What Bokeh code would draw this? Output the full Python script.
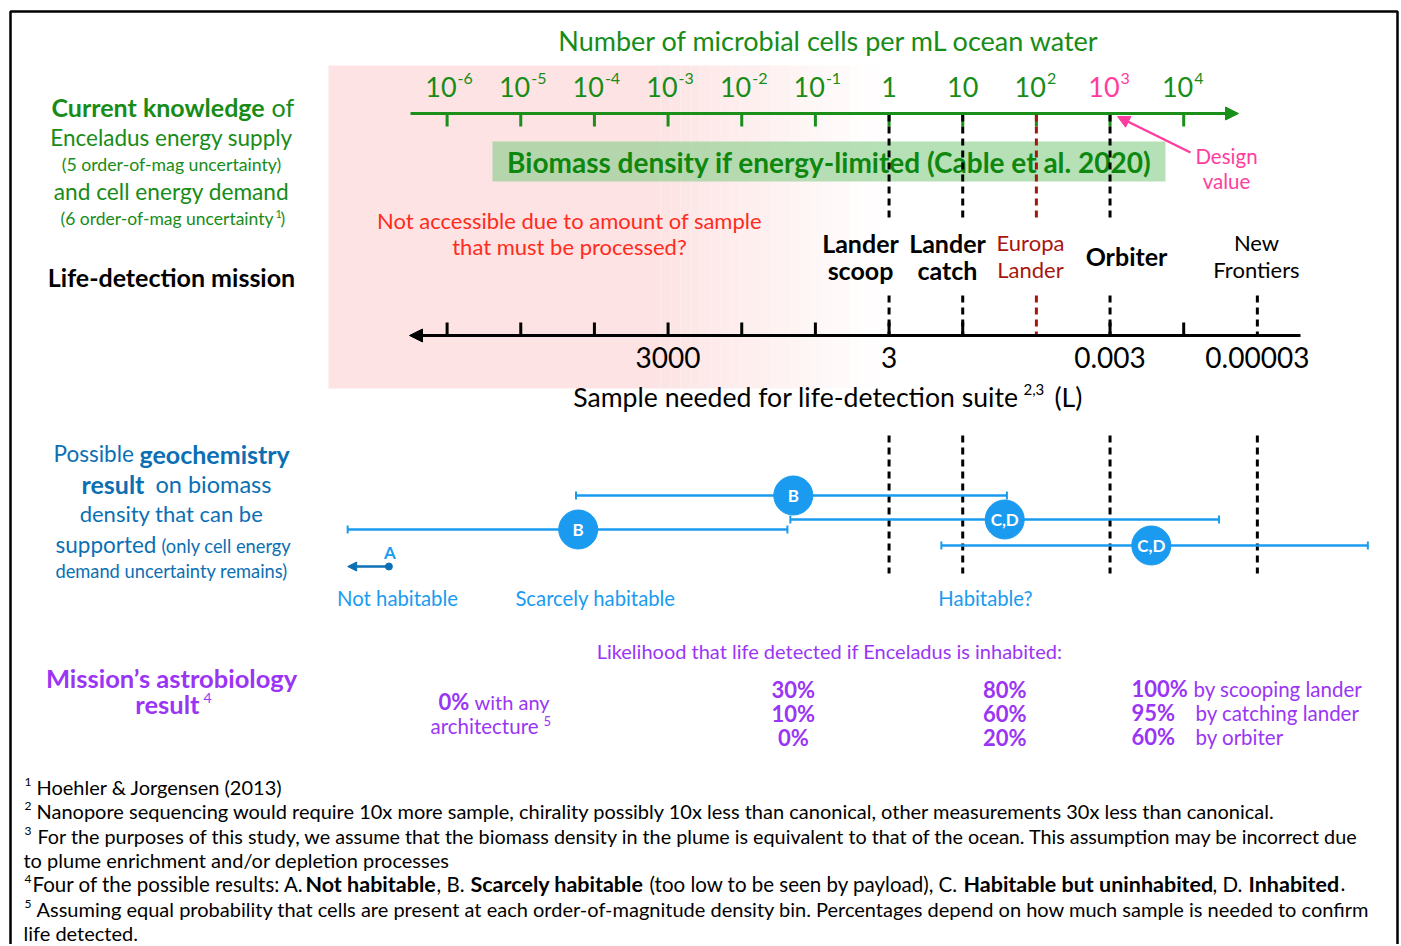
from bokeh.plotting import figure
from bokeh.models import Range1d, Arrow, NormalHead
from bokeh.core.properties import value
from bokeh.embed import file_html
from bokeh.resources import INLINE

# ---------------- data ----------------
density_exponents = [-6, -5, -4, -3, -2, -1, 0, 1, 2, 3, 4]   # top axis: cells per mL (10^x)
design_exponent = 3
mission_names = [["Lander", "scoop"], ["Lander", "catch"], ["Europa", "Lander"], ["Orbiter"], ["New", "Frontiers"]]
mission_exponents = [0, 1, 2, 3, 5]
sample_exponents = [-3, 0, 3, 5]
sample_labels = ["3000", "3", "0.003", "0.00003"]
result_labels = ["B", "B", "C,D", "C,D"]
result_center = [-4.22, -1.30, 1.57, 3.56]
result_low = [-7.35, -4.25, -1.34, 0.71]
result_high = [-1.38, 1.60, 4.48, 6.50]
result_A = -6.79
result_A_arrow_to = -7.35
likelihood_col1 = ["30%", "10%", "0%"]
likelihood_col2 = ["80%", "60%", "20%"]
likelihood_col3 = ["100%", "95%", "60%"]
likelihood_col3_by = ["by scooping lander", "by catching lander", "by orbiter"]

# ---------------- layout helpers ----------------
W, H = 1400, 944
PX0, PPD = 446.6, 73.66          # pixel of 10^-6 tick, pixels per decade


def X(px):
    return (px - PX0) / PPD - 6.0


FONT = "Lato"
GREEN = "#178c17"
DGREEN = "#0e870e"
PINKBG = "#fde3e3"
RED = "#ff2b1c"
DRED = "#a8150d"
PINK = "#ff3d9e"
BLUE = "#1a9bf0"
DBLUE = "#0b6fb4"
PURPLE = "#9a35f5"

p = figure(width=W, height=H, x_range=Range1d(X(0), X(W)), y_range=Range1d(H, 0),
           output_backend="svg", toolbar_location=None, min_border=0)
p.axis.visible = False
p.grid.visible = False
p.outline_line_color = None
p.background_fill_color = "white"


def T(s, x, y, size, color, bold=False, align="center", data_x=False):
    p.text(x=[x if data_x else X(x)], y=[y], text=[s], text_font=value(FONT),
           text_font_size=f"{size}px", text_font_style="bold" if bold else "normal",
           text_color=color, text_align=align, text_baseline="middle")


# frame box
p.quad(left=[X(10)], right=[X(1397)], top=[11], bottom=[H + 20], fill_color=None, line_color="black", line_width=2.5)

# ---------------- pink "not accessible" region with fade ----------------
p.quad(left=[X(328)], right=[X(660)], bottom=[388], top=[65], fill_color=PINKBG, line_color=None)
n = 22
for i in range(n):
    l = 660 + i * 10
    p.quad(left=[X(l)], right=[X(l + 10)], bottom=[388], top=[65], fill_color=PINKBG,
           fill_alpha=1 - (i + 0.5) / n, line_color=None)

# ---------------- title ----------------
T("Number of microbial cells per mL ocean water", 829, 40, 27, GREEN)

# ---------------- top axis ----------------
p.add_layout(Arrow(x_start=X(410), y_start=113, x_end=X(1238), y_end=113, line_color="#1a8f1a", line_width=3,
                   end=NormalHead(size=13, fill_color="#1a8f1a", line_color="#1a8f1a")))
p.segment(x0=density_exponents, x1=density_exponents, y0=[113] * 11, y1=[126] * 11, line_color="#1a8f1a", line_width=3)
for e in density_exponents:
    col = PINK if e == design_exponent else GREEN
    if e == 0:
        T("1", e, 86, 27, col, data_x=True)
    elif e == 1:
        T("10", e, 86, 27, col, data_x=True)
    else:
        T("10", e + 9.5 / PPD, 86, 27, col, align="right", data_x=True)
        T(str(e), e + 10.5 / PPD, 78, 16, col, align="left", data_x=True)

# ---------------- biomass band ----------------
p.quad(left=[X(492)], right=[X(1165)], bottom=[181], top=[141], fill_color="#8fcf8f", fill_alpha=0.65, line_color=None)
T("Biomass density if energy-limited (Cable et al. 2020)", 829, 161, 28, DGREEN, bold=True)

# ---------------- left green text ----------------
T("Current knowledge", 51, 106, 25, GREEN, bold=True, align="left")
T("of", 271, 106, 25, GREEN, align="left")
T("Enceladus energy supply", 171, 137, 22.5, GREEN)
T("(5 order-of-mag uncertainty)", 171, 164, 17.7, GREEN)
T("and cell energy demand", 171, 191, 22.7, GREEN)
T("(6 order-of-mag uncertainty", 273, 218, 17.5, GREEN, align="right")
T("1", 275, 213, 11, GREEN, align="left")
T(")", 280, 218, 17.5, GREEN, align="left")
T("Life-detection mission", 171, 276, 25, "black", bold=True)

# ---------------- red note ----------------
T("Not accessible due to amount of sample", 569, 220, 22, RED)
T("that must be processed?", 569, 246, 22, RED)

# ---------------- mission dashed lines and labels ----------------
for e in mission_exponents:
    col = DRED if e == 2 else "black"
    if e != 5:
        p.segment(x0=[e], x1=[e], y0=[114], y1=[222], line_color=col, line_width=3, line_dash="7 5")
    p.segment(x0=[e], x1=[e], y0=[295], y1=[335], line_color=col, line_width=3, line_dash="7 5")
    if e != 2:
        p.segment(x0=[e], x1=[e], y0=[435], y1=[573], line_color="black", line_width=3, line_dash="7 5")

label_x = [860, 947, 1030, 1126, 1256]
for names, e, lx in zip(mission_names, mission_exponents, label_x):
    bold = e in (0, 1, 3)
    col = DRED if e == 2 else "black"
    size = 25 if bold else 22
    if len(names) == 1:
        T(names[0], lx, 255, size, col, bold=bold)
    else:
        T(names[0], lx, 242, size, col, bold=bold)
        T(names[1], lx, 269, size, col, bold=bold)

# design value arrow
p.add_layout(Arrow(x_start=X(1190), y_start=152, x_end=X(1117), y_end=116, line_color=PINK, line_width=2.5,
                   end=NormalHead(size=12, fill_color=PINK, line_color=PINK)))
T("Design", 1226, 155, 20.5, PINK)
T("value", 1226, 180, 20.5, PINK)

# ---------------- bottom (sample) axis ----------------
p.add_layout(Arrow(x_start=X(1300), y_start=335, x_end=X(409), y_end=335, line_color="black", line_width=3,
                   end=NormalHead(size=13, fill_color="black", line_color="black")))
bt = [e for e in density_exponents if e != 2]
p.segment(x0=bt, x1=bt, y0=[335] * len(bt), y1=[322] * len(bt), line_color="black", line_width=3)
for e, s in zip(sample_exponents, sample_labels):
    T(s, e, 357, 28, "black", data_x=True)
T("Sample needed for life-detection suite", 1018, 396, 26.6, "black", align="right")
T("2,3", 1023, 389, 15, "black", align="left")
T("(L)", 1054, 396, 26.6, "black", align="left")

# ---------------- geochemistry results ----------------
rows_y = [529, 495, 519, 545]
for lo, c, hi, lab, y in zip(result_low, result_center, result_high, result_labels, rows_y):
    p.segment(x0=[lo], x1=[hi], y0=[y], y1=[y], line_color=BLUE, line_width=2.5)
    p.segment(x0=[lo, hi], x1=[lo, hi], y0=[y - 4, y - 4], y1=[y + 4, y + 4], line_color=BLUE, line_width=2)
    p.scatter(x=[c], y=[y], size=39, marker="circle", fill_color=BLUE, line_color=BLUE)
    T(lab, c, y, 17, "white", bold=True, data_x=True)

p.add_layout(Arrow(x_start=result_A, y_start=566, x_end=result_A_arrow_to, y_end=566, line_color=DBLUE, line_width=2.5,
                   end=NormalHead(size=9, fill_color=DBLUE, line_color=DBLUE)))
p.scatter(x=[result_A], y=[566], size=7, marker="circle", fill_color=DBLUE, line_color=DBLUE)
T("A", result_A + 1 / PPD, 552, 17, BLUE, bold=True, data_x=True)

T("Not habitable", 397, 597, 20.3, BLUE)
T("Scarcely habitable", 595, 597, 20.3, BLUE)
T("Habitable?", 985, 597, 20.3, BLUE)

# left blue text
T("Possible", 53, 453, 22.5, DBLUE, align="left")
T("geochemistry", 139, 453, 25, DBLUE, bold=True, align="left")
T("result", 81, 483, 25, DBLUE, bold=True, align="left")
T("on biomass", 155, 483, 23.5, DBLUE, align="left")
T("density that can be", 171, 513, 22, DBLUE)
T("supported", 55, 544, 22.5, DBLUE, align="left")
T("(only cell energy", 161, 545, 18.3, DBLUE, align="left")
T("demand uncertainty remains)", 171, 570, 18.3, DBLUE)

# ---------------- mission astrobiology result ----------------
T("Mission\u2019s astrobiology", 171, 677, 25.5, PURPLE, bold=True)
T("result", 199, 703, 25.5, PURPLE, bold=True, align="right")
T("4", 203, 697, 14, PURPLE, align="left")
T("Likelihood that life detected if Enceladus is inhabited:", 829, 650, 20, PURPLE)
T("0%", 438, 701, 22, PURPLE, bold=True, align="left")
T("with any", 474, 701, 20, PURPLE, align="left")
T("architecture", 538, 725, 20.5, PURPLE, align="right")
T("5", 543, 720, 13, PURPLE, align="left")
for i, s in enumerate(likelihood_col1):
    T(s, result_center[1], 689 + 24 * i, 22, PURPLE, bold=True, data_x=True)
for i, s in enumerate(likelihood_col2):
    T(s, result_center[2], 689 + 24 * i, 22, PURPLE, bold=True, data_x=True)
for i, (s, b) in enumerate(zip(likelihood_col3, likelihood_col3_by)):
    T(s, 1131, 688 + 24 * i, 22, PURPLE, bold=True, align="left")
    T(b, 1193 if i == 0 else 1195, 688 + 24 * i, 20.5, PURPLE, align="left")

# ---------------- footnotes ----------------
FN = 20
FB = 21.5
fy = [786, 810, 835, 859, 883, 908, 932]
T("1", 24, fy[0] - 5, 12, "black", align="left")
T("Hoehler & Jorgensen (2013)", 36, fy[0], FN, "black", align="left")
T("2", 24, fy[1] - 5, 12, "black", align="left")
T("Nanopore sequencing would require 10x more sample, chirality possibly 10x less than canonical, other measurements 30x less than canonical.",
  36, fy[1], FN, "black", align="left")
T("3", 24, fy[2] - 5, 12, "black", align="left")
T("For the purposes of this study, we assume that the biomass density in the plume is equivalent to that of the ocean. This assumption may be incorrect due",
  37, fy[2], 19.8, "black", align="left")
T("to plume enrichment and/or depletion processes", 23, fy[3], FN, "black", align="left")
T("4", 24, fy[4] - 5, 12, "black", align="left")
T("Four of the possible results: A.", 32, fy[4], 20.5, "black", align="left")
T("Not habitable", 305, fy[4], FB, "black", bold=True, align="left")
T(", B.", 436, fy[4], 20.5, "black", align="left")
T("Scarcely habitable", 470, fy[4], FB, "black", bold=True, align="left")
T("(too low to be seen by payload), C.", 649, fy[4], 20.5, "black", align="left")
T("Habitable but uninhabited", 963, fy[4], FB, "black", bold=True, align="left")
T(", D.", 1212, fy[4], 20.5, "black", align="left")
T("Inhabited", 1248, fy[4], FB, "black", bold=True, align="left")
T(".", 1340, fy[4], 20.5, "black", align="left")
T("5", 24, fy[5] - 5, 12, "black", align="left")
T("Assuming equal probability that cells are present at each order-of-magnitude density bin. Percentages depend on how much sample is needed to confirm",
  36, fy[5], FN, "black", align="left")
T("life detected.", 23, fy[6], FN, "black", align="left")

open("out.html", "w").write(file_html(p, INLINE))
